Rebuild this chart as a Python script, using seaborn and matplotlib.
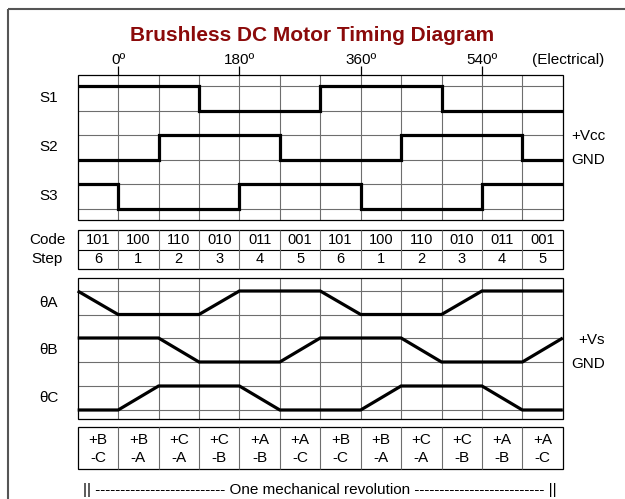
import numpy as np
import matplotlib
matplotlib.use("Agg")
import matplotlib.pyplot as plt
from matplotlib.patches import Rectangle
import seaborn as sns

# ---------------- data ----------------
codes = ["101", "100", "110", "010", "011", "001", "101", "100", "110", "010", "011", "001"]
steps = ["6", "1", "2", "3", "4", "5", "6", "1", "2", "3", "4", "5"]
pos_phase = ["+B", "+B", "+C", "+C", "+A", "+A", "+B", "+B", "+C", "+C", "+A", "+A"]
neg_phase = ["-C", "-A", "-A", "-B", "-B", "-C", "-C", "-A", "-A", "-B", "-B", "-C"]
col_edges = [-60, 0, 60, 120, 180, 240, 300, 360, 420, 480, 540, 600, 660]
hall_names = ["S1", "S2", "S3"]
emf_names = ["θA", "θB", "θC"]
emf_A = [1, 0, 0, 0, 1, 1, 1, 0, 0, 0, 1, 1, 1]
emf_B = [1, 1, 1, 0, 0, 0, 1, 1, 1, 0, 0, 0, 1]
emf_C = [0, 0, 1, 1, 1, 0, 0, 0, 1, 1, 1, 0, 0]
deg_ticks = [0, 180, 360, 540]
deg_labels = ["0º", "180º", "360º", "540º"]

# ---------------- layout ----------------
W, H = 625, 499
GX0, GX1 = 77.7, 562.8
def px2deg(px):
    return col_edges[0] + (px - GX0) * (col_edges[-1] - col_edges[0]) / (GX1 - GX0)

plt.rcParams['font.family'] = ['Liberation Sans', 'DejaVu Sans']
fig = plt.figure(figsize=(W / 100, H / 100), dpi=100)
ax = fig.add_axes([0, 0, 1, 1])

GRID_C = '#6e6e6e'
LW_SIG = 2.3

def draw_grid(top, bottom, ys):
    ax.hlines(ys, col_edges[0], col_edges[-1], color=GRID_C, lw=0.8, zorder=1)
    ax.vlines(col_edges[1:-1], top, bottom, color=GRID_C, lw=0.8, zorder=1)
    ax.add_patch(Rectangle((col_edges[0], top), col_edges[-1] - col_edges[0], bottom - top,
                           fill=False, ec='black', lw=0.9, zorder=2))

# upper grid (hall sensors)
U_TOP, U_BOT = 75, 220
hall_levels = [(86, 110.5), (135, 159.5), (184, 209)]
draw_grid(U_TOP, U_BOT, [86, 110.5, 135, 159.5, 184, 209])
for i, name in enumerate(hall_names):
    hi, lo = hall_levels[i]
    bits = [int(c[i]) for c in codes]
    bits = bits + [bits[-1]]
    y = [lo - b * (lo - hi) for b in bits]
    sns.lineplot(x=col_edges, y=y, ax=ax, color='black', lw=LW_SIG, drawstyle='steps-post',
                 estimator=None, sort=False, solid_joinstyle='miter', solid_capstyle='butt', zorder=3)
    ax.text(px2deg(49), (hi + lo) / 2, name, ha='center', va='center', fontsize=11)

# degree ticks and labels
ax.vlines(deg_ticks, 66, U_TOP, color='black', lw=0.9, zorder=2)
for d, lab in zip(deg_ticks, deg_labels):
    ax.text(d, 60, lab, ha='center', va='center', fontsize=11)
ax.text(px2deg(568), 60, "(Electrical)", ha='center', va='center', fontsize=11)
ax.text(px2deg(571), 136, "+Vcc", ha='left', va='center', fontsize=11)
ax.text(px2deg(571), 160, "GND", ha='left', va='center', fontsize=11)

# code/step table
C_TOP, C_MID, C_BOT = 230, 249.5, 269
ax.hlines([C_MID], col_edges[0], col_edges[-1], color='black', lw=0.8)
ax.vlines(col_edges[1:-1], C_TOP, C_BOT, color=GRID_C, lw=0.8)
ax.add_patch(Rectangle((col_edges[0], C_TOP), col_edges[-1] - col_edges[0], C_BOT - C_TOP,
                       fill=False, ec='black', lw=0.9))
for j in range(len(codes)):
    xc = (col_edges[j] + col_edges[j + 1]) / 2
    ax.text(xc, (C_TOP + C_MID) / 2, codes[j], ha='center', va='center', fontsize=10.5)
    ax.text(xc, (C_MID + C_BOT) / 2, steps[j], ha='center', va='center', fontsize=10.5)
ax.text(px2deg(47), (C_TOP + C_MID) / 2, "Code", ha='center', va='center', fontsize=11)
ax.text(px2deg(47), (C_MID + C_BOT) / 2, "Step", ha='center', va='center', fontsize=11)

# lower grid (back EMF)
L_TOP, L_BOT = 277.5, 419
emf_levels = [(291, 314.5), (338, 362), (386, 410)]
draw_grid(L_TOP, L_BOT, [291, 314.5, 338, 362, 386, 410])
for name, vals, (hi, lo) in zip(emf_names, [emf_A, emf_B, emf_C], emf_levels):
    y = [lo - v * (lo - hi) for v in vals]
    sns.lineplot(x=col_edges, y=y, ax=ax, color='black', lw=LW_SIG,
                 estimator=None, sort=False, solid_joinstyle='miter', solid_capstyle='butt', zorder=3)
    ax.text(px2deg(49), (hi + lo) / 2, name, ha='center', va='center', fontsize=11)
ax.text(px2deg(578), 340, "+Vs", ha='left', va='center', fontsize=11)
ax.text(px2deg(571), 364, "GND", ha='left', va='center', fontsize=11)

# phase table
P_TOP, P_BOT = 427, 469
ax.vlines(col_edges[1:-1], P_TOP, P_BOT, color=GRID_C, lw=0.8)
ax.add_patch(Rectangle((col_edges[0], P_TOP), col_edges[-1] - col_edges[0], P_BOT - P_TOP,
                       fill=False, ec='black', lw=0.9))
for j in range(len(pos_phase)):
    xc = (col_edges[j] + col_edges[j + 1]) / 2
    ax.text(xc, 439.5, pos_phase[j], ha='center', va='center', fontsize=11)
    ax.text(xc, 458.5, neg_phase[j], ha='center', va='center', fontsize=11)

mid = (col_edges[0] + col_edges[-1]) / 2
ax.text(mid, 490, "|| " + "-" * 26 + " One mechanical revolution " + "-" * 26 + " ||",
        ha='center', va='center', fontsize=11)

# title
ax.text(px2deg(W / 2), 35, "Brushless DC Motor Timing Diagram", ha='center', va='center',
        fontsize=15, fontweight='bold', color='#8b0a0a')

# outer frame (left and top visible)
ax.plot([px2deg(8), px2deg(8)], [9, H + 10], color='#555555', lw=1.5, solid_capstyle='butt')
ax.plot([px2deg(8), px2deg(W + 10)], [9, 9], color='#555555', lw=1.5, solid_capstyle='butt')

ax.set_xlim(px2deg(0), px2deg(W))
ax.set_ylim(H, 0)
ax.axis('off')
fig.savefig("out.png", dpi=100)
